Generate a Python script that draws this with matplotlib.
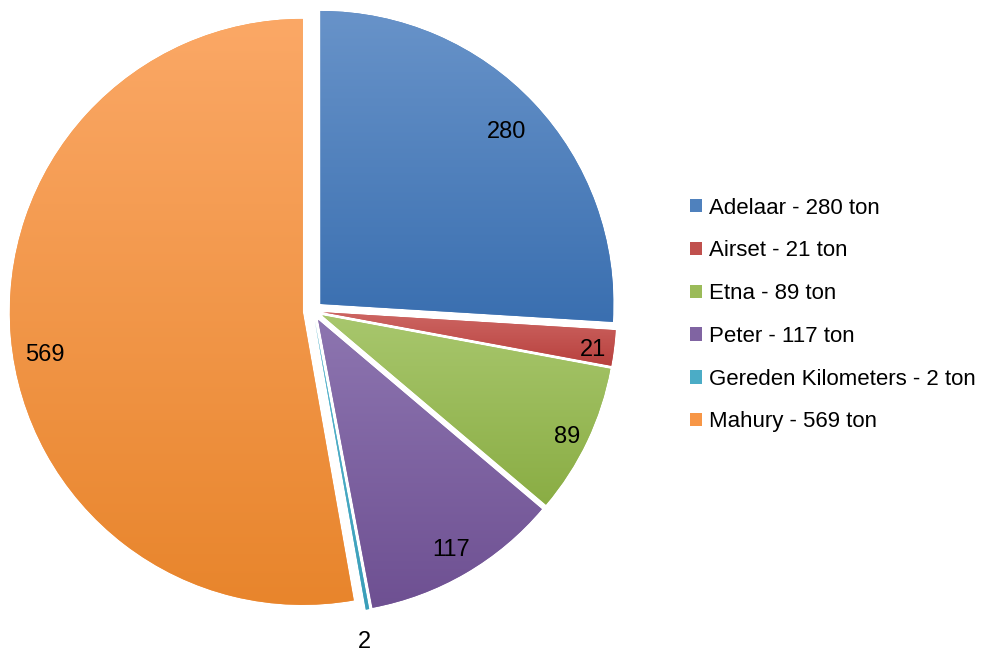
import numpy as np
import matplotlib
matplotlib.use("Agg")
import matplotlib.pyplot as plt
from matplotlib.colors import LinearSegmentedColormap

# data
names = ["Adelaar", "Airset", "Etna", "Peter", "Gereden Kilometers", "Mahury"]
values = [280, 21, 89, 117, 2, 569]
unit = "ton"

# colours: base, top (light) and bottom (dark) of the gradient fill
base_colors = ["#4F81BD", "#C0504D", "#9BBB59", "#8064A2", "#4BACC6", "#F79646"]
top_colors = ["#6893C9", "#CD6562", "#A8C76D", "#8D75B0", "#5BB7CF", "#FBA866"]
bottom_colors = ["#3A6FB0", "#B8413E", "#8AAD44", "#6E5092", "#3A9EB9", "#E8852C"]

plt.rcParams["font.family"] = ["Liberation Sans", "DejaVu Sans"]

fig = plt.figure(figsize=(9.87, 6.53), dpi=100)
# pie centre ~ (313, 311) px, radius ~ 293 px
R = 293
lim = 1.05
cx_px, cy_px = 313, 311
half = lim * R
ax = fig.add_axes([(cx_px - half) / 987, (653 - cy_px - half) / 653,
                   2 * half / 987, 2 * half / 653])

wedges, _ = ax.pie(values, colors=base_colors, startangle=90, counterclock=False,
                   explode=[0.035] * len(values), radius=1,
                   wedgeprops=dict(linewidth=0))
ax.set_xlim(-lim, lim)
ax.set_ylim(-lim, lim)
ax.axis("off")

# vertical gradient inside every slice
grad = np.linspace(0, 1, 256).reshape(-1, 1)
for w, top, bot in zip(wedges, top_colors, bottom_colors):
    ext = w.get_path().get_extents()
    cmap = LinearSegmentedColormap.from_list("g", [bot, top])
    im = ax.imshow(grad, cmap=cmap, origin="lower", aspect="auto",
                   extent=[ext.x0, ext.x1, ext.y0, ext.y1], zorder=w.get_zorder() + 0.1)
    im.set_clip_path(w)
ax.set_xlim(-lim, lim)
ax.set_ylim(-lim, lim)

# value labels (distance from slice centre, angle nudge in degrees)
label_dist = [0.87, 0.93, 0.93, 0.90, 1.10, 0.89]
label_turn = [0, -0.5, -0.5, 0, -1.5, 4]
for w, v, d, t in zip(wedges, values, label_dist, label_turn):
    ang = np.deg2rad((w.theta1 + w.theta2) / 2 + t)
    x0, y0 = w.center
    ax.text(x0 + d * np.cos(ang), y0 + d * np.sin(ang), str(v),
            ha="center", va="center_baseline", fontsize=17, zorder=5)

labels = [f"{n} - {v} {unit}" for n, v in zip(names, values)]
fig.legend(wedges, labels, loc="center left", bbox_to_anchor=(690 / 987, 1 - 315 / 653),
           frameon=False, fontsize=16, handlelength=0.55, handleheight=0.55,
           handletextpad=0.3, labelspacing=0.98, borderpad=0, borderaxespad=0)

fig.savefig("out.png", dpi=100)
